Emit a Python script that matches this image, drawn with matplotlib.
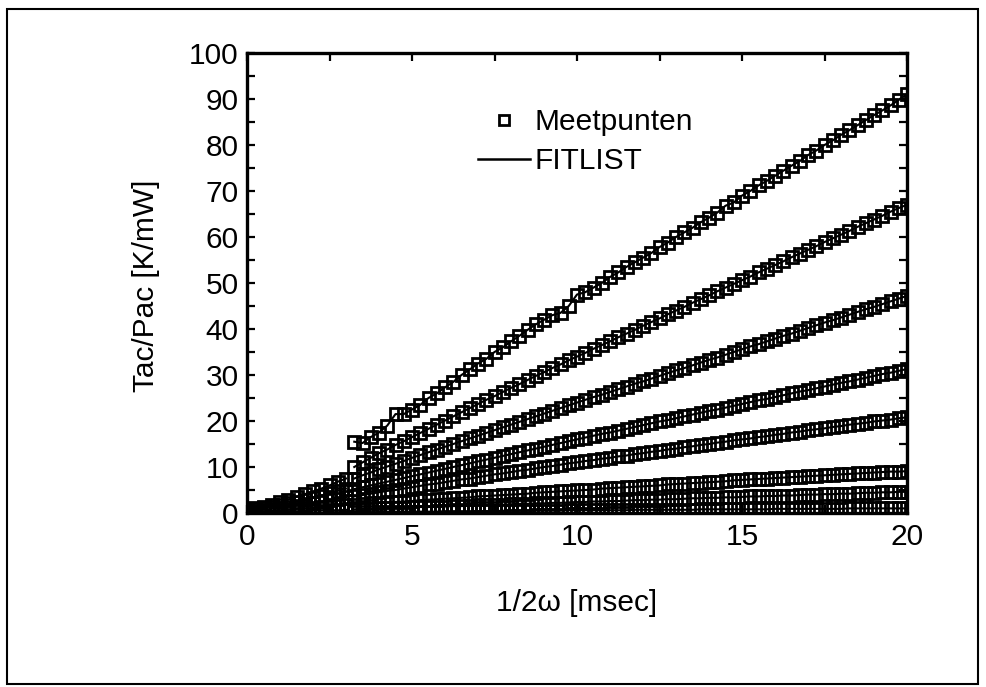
import matplotlib
matplotlib.use("Agg")
import matplotlib.pyplot as plt
from matplotlib.lines import Line2D
from matplotlib.patches import Rectangle
from matplotlib.ticker import MultipleLocator

plt.rcParams['font.family'] = ['Liberation Sans', 'DejaVu Sans']

# ---------------- data ----------------
x_lo = [0.0, 0.25, 0.5, 0.75, 1.0, 1.25, 1.5, 1.75, 2.0, 2.25, 2.5, 2.75, 3.0]
lo1 = [0.8, 1.0, 1.3, 1.8, 2.3, 2.9, 3.5, 4.1, 4.7, 5.3, 6.0, 6.8, 7.5]
lo2 = [0.6, 0.8, 1.0, 1.3, 1.7, 2.1, 2.5, 2.9, 3.3, 3.8, 4.3, 4.8, 5.3]
lo3 = [0.4, 0.5, 0.7, 0.9, 1.1, 1.4, 1.6, 1.9, 2.2, 2.5, 2.8, 3.1, 3.4]
lo4 = [0.3, 0.3, 0.4, 0.5, 0.6, 0.7, 0.9, 1.0, 1.1, 1.3, 1.4, 1.6, 1.8]
lo5 = [0.2, 0.2, 0.2, 0.3, 0.3, 0.3, 0.4, 0.4, 0.5, 0.5, 0.6, 0.6, 0.7]

x_hi = [3.25, 3.5, 3.75, 4.0, 4.25, 4.5, 4.75, 5.0,
        5.25, 5.5, 5.75, 6.0, 6.25, 6.5, 6.75, 7.0,
        7.25, 7.5, 7.75, 8.0, 8.25, 8.5, 8.75, 9.0,
        9.25, 9.5, 9.75, 10.0, 10.25, 10.5, 10.75, 11.0,
        11.25, 11.5, 11.75, 12.0, 12.25, 12.5, 12.75, 13.0,
        13.25, 13.5, 13.75, 14.0, 14.25, 14.5, 14.75, 15.0,
        15.25, 15.5, 15.75, 16.0, 16.25, 16.5, 16.75, 17.0,
        17.25, 17.5, 17.75, 18.0, 18.25, 18.5, 18.75, 19.0,
        19.25, 19.5, 19.75, 20.0]

hi1 = [15.5, 15.2, 16.5, 17.5, 19.0, 21.5, 21.5, 22.5,
       23.5, 25.0, 26.0, 27.3, 28.5, 30.0, 31.2, 32.5,
       33.5, 35.0, 36.0, 37.3, 38.5, 39.8, 41.0, 42.0,
       43.0, 43.5, 45.0, 47.5, 48.0, 49.0, 50.0, 51.3,
       52.3, 53.5, 54.5, 55.5, 56.5, 57.8, 58.8, 60.0,
       61.0, 62.0, 63.2, 64.2, 65.3, 66.8, 67.5, 69.0,
       70.0, 71.2, 72.2, 73.3, 74.4, 75.5, 76.5, 77.8,
       78.8, 80.0, 81.0, 82.2, 83.2, 84.3, 85.4, 86.5,
       87.5, 88.6, 89.8, 91.0]
hi2 = [10.0, 11.0, 12.0, 13.0, 13.8, 14.8, 15.6, 16.5,
       17.4, 18.3, 19.2, 20.1, 21.0, 21.9, 22.8, 23.7,
       24.6, 25.4, 26.3, 27.2, 28.0, 28.9, 29.8, 30.6,
       31.5, 32.3, 33.2, 34.0, 34.8, 35.7, 36.5, 37.3,
       38.2, 39.0, 39.8, 40.7, 41.5, 42.3, 43.2, 44.0,
       44.8, 45.7, 46.5, 47.3, 48.2, 49.0, 49.8, 50.6,
       51.4, 52.3, 53.1, 53.9, 54.7, 55.6, 56.4, 57.2,
       58.0, 58.9, 59.7, 60.5, 61.3, 62.2, 63.0, 63.8,
       64.6, 65.5, 66.3, 67.0]
hi3 = [7.5, 8.2, 8.8, 9.5, 10.1, 10.7, 11.3, 12.0,
       12.6, 13.2, 13.8, 14.4, 15.0, 15.6, 16.2, 16.8,
       17.4, 18.0, 18.6, 19.2, 19.8, 20.4, 21.0, 21.6,
       22.2, 22.8, 23.4, 24.0, 24.6, 25.2, 25.7, 26.3,
       26.9, 27.5, 28.1, 28.6, 29.2, 29.8, 30.4, 31.0,
       31.5, 32.1, 32.7, 33.3, 33.8, 34.4, 35.0, 35.6,
       36.2, 36.7, 37.3, 37.9, 38.5, 39.0, 39.6, 40.2,
       40.8, 41.4, 41.9, 42.5, 43.1, 43.7, 44.3, 44.8,
       45.4, 46.0, 46.6, 47.2]
hi4 = [5.2, 5.6, 6.0, 6.4, 6.8, 7.2, 7.6, 8.0,
       8.4, 8.8, 9.2, 9.6, 10.0, 10.4, 10.8, 11.2,
       11.6, 12.0, 12.4, 12.8, 13.2, 13.6, 14.0, 14.4,
       14.8, 15.2, 15.6, 16.0, 16.4, 16.8, 17.2, 17.5,
       17.9, 18.3, 18.7, 19.1, 19.5, 19.9, 20.2, 20.6,
       21.0, 21.4, 21.8, 22.2, 22.5, 22.9, 23.3, 23.7,
       24.1, 24.5, 24.8, 25.2, 25.6, 26.0, 26.4, 26.7,
       27.1, 27.5, 27.9, 28.3, 28.6, 29.0, 29.4, 29.8,
       30.2, 30.5, 30.9, 31.3]
hi5 = [3.6, 3.9, 4.2, 4.5, 4.8, 5.0, 5.3, 5.6,
       5.9, 6.2, 6.4, 6.7, 7.0, 7.3, 7.5, 7.8,
       8.1, 8.4, 8.6, 8.9, 9.2, 9.4, 9.7, 10.0,
       10.2, 10.5, 10.8, 11.0, 11.3, 11.5, 11.8, 12.0,
       12.3, 12.5, 12.8, 13.0, 13.3, 13.5, 13.8, 14.0,
       14.3, 14.5, 14.8, 15.0, 15.3, 15.5, 15.8, 16.0,
       16.2, 16.5, 16.7, 17.0, 17.2, 17.5, 17.7, 18.0,
       18.2, 18.4, 18.7, 18.9, 19.2, 19.4, 19.6, 19.9,
       20.1, 20.3, 20.6, 20.8]
hi6 = [1.8, 2.0, 2.1, 2.2, 2.3, 2.4, 2.5, 2.6,
       2.8, 2.9, 3.0, 3.1, 3.2, 3.3, 3.4, 3.6,
       3.7, 3.8, 3.9, 4.0, 4.1, 4.2, 4.4, 4.5,
       4.6, 4.7, 4.8, 4.9, 5.0, 5.1, 5.3, 5.4,
       5.5, 5.6, 5.7, 5.8, 5.9, 6.0, 6.2, 6.3,
       6.4, 6.5, 6.6, 6.7, 6.8, 6.9, 7.1, 7.2,
       7.3, 7.4, 7.5, 7.6, 7.7, 7.8, 7.9, 8.0,
       8.1, 8.2, 8.3, 8.4, 8.5, 8.6, 8.7, 8.8,
       8.9, 9.0, 9.0, 9.1]
hi7 = [0.8, 0.9, 0.9, 1.0, 1.0, 1.1, 1.1, 1.2,
       1.3, 1.3, 1.4, 1.4, 1.5, 1.5, 1.6, 1.7,
       1.7, 1.8, 1.8, 1.9, 2.0, 2.0, 2.1, 2.1,
       2.2, 2.2, 2.3, 2.4, 2.4, 2.5, 2.5, 2.6,
       2.6, 2.7, 2.8, 2.8, 2.9, 2.9, 3.0, 3.0,
       3.1, 3.2, 3.2, 3.3, 3.3, 3.4, 3.4, 3.5,
       3.6, 3.6, 3.7, 3.7, 3.8, 3.8, 3.9, 4.0,
       4.0, 4.1, 4.1, 4.2, 4.2, 4.3, 4.4, 4.4,
       4.5, 4.5, 4.6, 4.6]
hi8 = [0.2, 0.2, 0.2, 0.2, 0.3, 0.3, 0.3, 0.3,
       0.3, 0.3, 0.3, 0.4, 0.4, 0.4, 0.4, 0.4,
       0.4, 0.4, 0.5, 0.5, 0.5, 0.5, 0.5, 0.5,
       0.5, 0.5, 0.6, 0.6, 0.6, 0.6, 0.6, 0.6,
       0.6, 0.6, 0.7, 0.7, 0.7, 0.7, 0.7, 0.7,
       0.7, 0.7, 0.8, 0.8, 0.8, 0.8, 0.8, 0.8,
       0.8, 0.8, 0.8, 0.9, 0.9, 0.9, 0.9, 0.9,
       0.9, 0.9, 0.9, 0.9, 1.0, 1.0, 1.0, 1.0,
       1.0, 1.0, 1.0, 1.0]

xlabel = "1/2\u03c9 [msec]"
ylabel = "Tac/Pac [K/mW]"
legend_labels = ["Meetpunten", "FITLIST"]

# ---------------- figure ----------------
W, H = 986, 687
fig = plt.figure(figsize=(W / 100, H / 100), dpi=100)
fig.patch.set_facecolor('white')

# outer frame
fig.patches.append(Rectangle((7 / W, 3 / H), 971 / W, (H - 12) / H,
                             transform=fig.transFigure, fill=False,
                             edgecolor='black', linewidth=1.5))

L, R, T, B = 247, 907, 53, 513
ax = fig.add_axes([L / W, 1 - B / H, (R - L) / W, (B - T) / H])

FS = 21.5
ms, mew = 8.3, 2.0

lo_sets = [lo1, lo2, lo3, lo4, lo5]
hi_sets = [hi1, hi2, hi3, hi4, hi5, hi6, hi7, hi8]

for ys in lo_sets:
    ax.plot(x_lo, ys, ls='none', marker='s', ms=ms, mfc='none', mec='black', mew=mew)
    ax.plot(x_lo, ys, color='black', lw=1.5)
for ys in hi_sets:
    ax.plot(x_hi, ys, ls='none', marker='s', ms=ms, mfc='none', mec='black', mew=mew)
    ax.plot(x_hi, ys, color='black', lw=1.5)

ax.set_xlim(0, 20)
ax.set_ylim(0, 100)
ax.xaxis.set_major_locator(MultipleLocator(5))
ax.xaxis.set_minor_locator(MultipleLocator(2.5))
ax.yaxis.set_major_locator(MultipleLocator(10))
ax.yaxis.set_minor_locator(MultipleLocator(5))
ax.tick_params(which='both', direction='in', top=True, right=True,
               length=5.5, width=1.6, labelsize=FS)
ax.tick_params(axis='y', which='major', pad=6)
ax.tick_params(axis='x', which='major', pad=7)
for s in ax.spines.values():
    s.set_linewidth(2.4)

fig.text(577 / W, 1 - 603 / H, xlabel, fontsize=FS, ha='center', va='center')
fig.text(146 / W, 1 - 286 / H, ylabel, fontsize=FS, ha='center', va='center',
         rotation=90)

handles = [Line2D([], [], ls='none', marker='s', ms=7.5, mfc='none', mec='black', mew=mew),
           Line2D([], [], color='black', lw=1.8)]
ax.legend(handles, legend_labels, loc='upper left',
          bbox_to_anchor=(478 / W, 1 - 108 / H), bbox_transform=fig.transFigure,
          frameon=False, fontsize=FS, handlelength=1.75, handletextpad=0.15,
          labelspacing=0.38, borderpad=0, borderaxespad=0)

fig.savefig("out.png", dpi=100)
